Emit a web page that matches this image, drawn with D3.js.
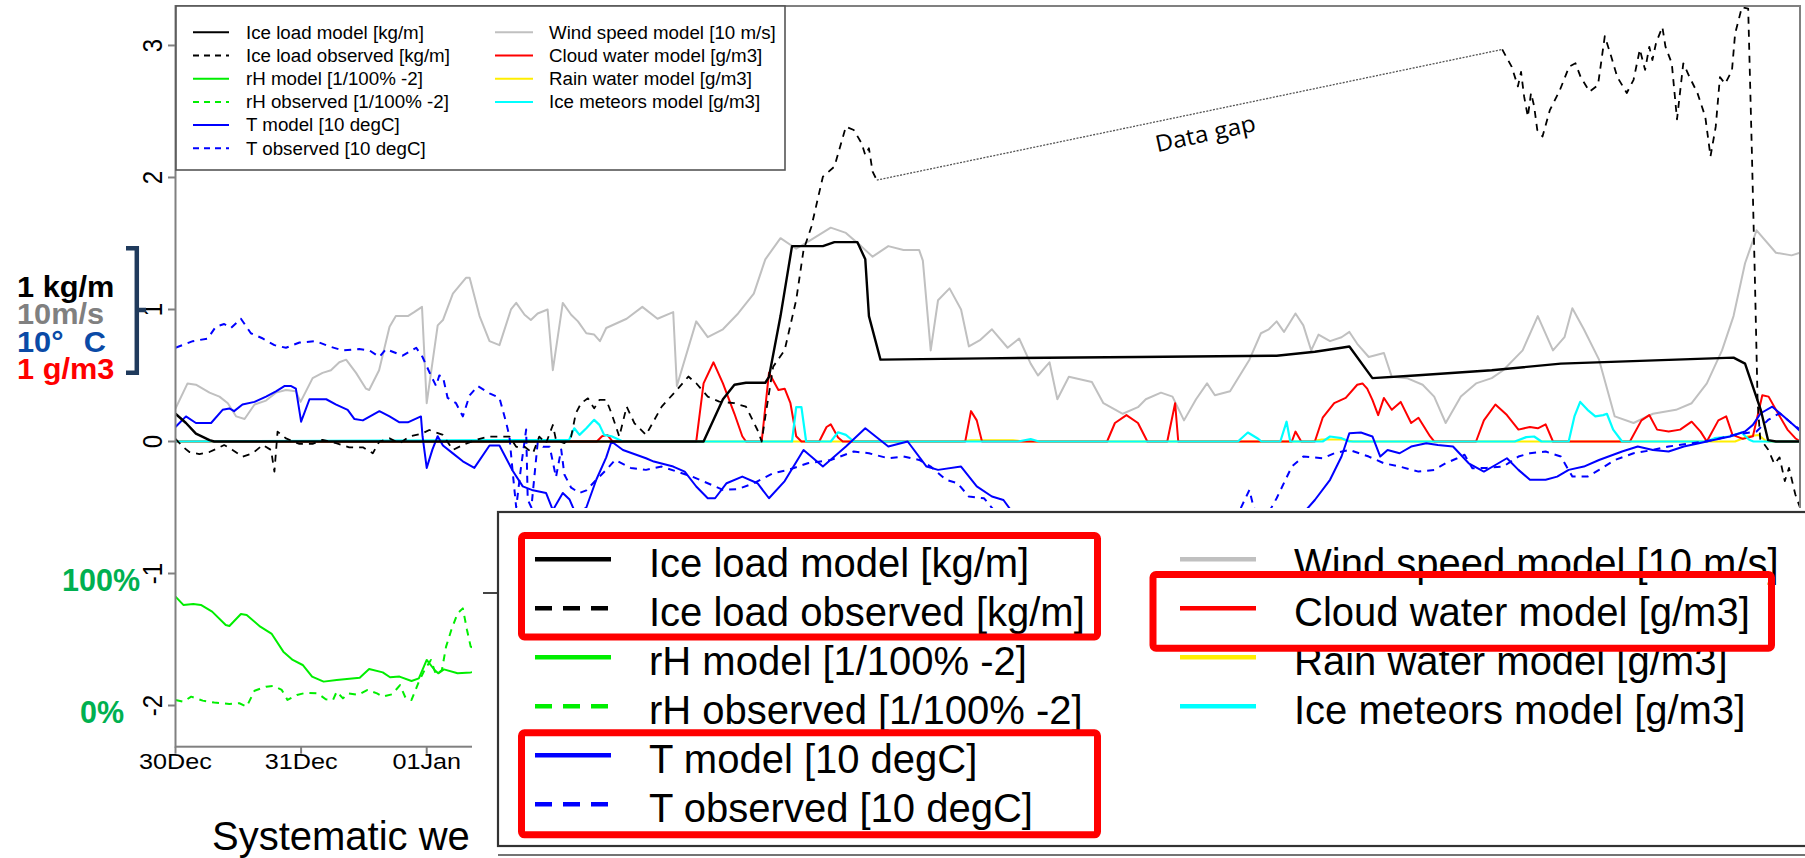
<!DOCTYPE html>
<html><head><meta charset="utf-8">
<script src="https://cdn.jsdelivr.net/npm/d3@7"></script>
<style>html,body{margin:0;padding:0;background:#fff;} svg{display:block;}</style>
</head><body>
<svg id="chart" width="1805" height="858"></svg>
<script>
// ---------- DATA (hours since 30 Dec 00:00, value in plot units) ----------
const windModel = [[0,0.25],[2.3,0.44],[3.9,0.43],[6.5,0.37],[8.4,0.34],[10.0,0.29],[11.6,0.19],[13.2,0.17],[15.1,0.28],[17.3,0.31],[19.2,0.37],[21.1,0.39],[23.0,0.38],[23.9,0.3],[26.2,0.48],[28.1,0.52],[29.7,0.54],[31.3,0.6],[32.6,0.62],[34.5,0.52],[36.4,0.4],[37.0,0.39],[38.9,0.54],[40.9,0.87],[42.1,0.95],[44.4,0.95],[45.6,0.98],[47.1,1.02],[48.0,0.29],[50.1,0.88],[51.1,0.92],[53.0,1.12],[55.5,1.24],[56.2,1.24],[58.1,0.95],[60.0,0.76],[61.9,0.73],[64.1,1.0],[65.1,1.05],[66.7,0.96],[67.9,0.92],[69.2,0.97],[71.1,1.0],[72.1,0.54],[74.0,1.05],[75.6,0.96],[76.9,0.91],[78.5,0.82],[80.0,0.81],[81.1,0.76],[82.3,0.86],[86.2,0.93],[89.2,1.02],[92.1,0.93],[95.1,0.98],[95.8,0.42],[99.5,0.91],[101.7,0.79],[104.6,0.85],[107.5,0.97],[110.5,1.12],[112.7,1.38],[115.6,1.54],[118.6,1.46],[121.5,1.53],[125.2,1.62],[128.1,1.58],[131.0,1.48],[133.2,1.40],[136.2,1.48],[139.1,1.45],[142.1,1.45],[142.8,1.37],[144.3,0.69],[145.7,1.07],[147.9,1.16],[150.1,1.0],[151.6,0.72],[153.8,0.77],[156.0,0.85],[159.0,0.71],[161.2,0.78],[163.4,0.59],[164.8,0.5],[167.0,0.6],[168.5,0.32],[170.7,0.49],[175.1,0.45],[177.3,0.29],[181.0,0.21],[183.9,0.26],[185.4,0.32],[188.3,0.37],[190.5,0.34],[192.7,0.16],[195.0,0.32],[197.1,0.44],[198.6,0.35],[201.5,0.38],[205.2,0.62],[207.4,0.82],[208.9,0.85],[210.4,0.91],[211.8,0.83],[214.0,0.97],[215.5,0.88],[217.0,0.69],[218.4,0.81],[220.6,0.76],[222.8,0.79],[224.3,0.83],[225.8,0.74],[228.0,0.64],[230.9,0.67],[232.4,0.49],[235.3,0.48],[238.3,0.43],[240.5,0.34],[242.7,0.14],[245.6,0.34],[248.5,0.44],[251.5,0.48],[253.7,0.54],[257.4,0.69],[260.3,0.95],[263.2,0.69],[265.4,0.79],[266.9,1.01],[269.1,0.85],[272.0,0.62],[275.0,0.19],[278.6,0.14],[282.3,0.21],[286.7,0.24],[289.7,0.29],[292.6,0.44],[295.5,0.69],[297.7,0.95],[299.9,1.35],[302.1,1.6],[305.8,1.43],[308.8,1.41],[310.4,1.43]];

const iceModel = [[0,0.21],[2.0,0.14],[3.9,0.06],[6.5,0.01],[7.4,0],[100.9,0],[104.6,0.32],[106.8,0.43],[109.0,0.445],[112.7,0.445],[113.4,0.49],[115.6,0.95],[117.8,1.48],[123.7,1.48],[125.9,1.51],[130.3,1.51],[131.8,1.38],[132.5,0.95],[134.7,0.62],[154.5,0.63],[183.9,0.64],[210.4,0.65],[217.7,0.68],[222.8,0.71],[224.3,0.72],[228.7,0.48],[236.8,0.5],[251.5,0.54],[264.7,0.59],[286.7,0.62],[297.7,0.635],[299.9,0.59],[302.9,0.24],[304.3,0.01],[305.8,0],[310.4,0]];

const iceObsBeforeGap = [[0,0.02],[1.4,-0.04],[2.65,-0.08],[4.56,-0.095],[6.47,-0.08],[8.4,-0.044],[9.3,-0.027],[10.9,-0.064],[12.8,-0.115],[14.75,-0.089],[16.66,-0.026],[18.25,-0.064],[18.9,-0.228],[19.5,0.075],[21.1,0.024],[23.67,-0.018],[26.2,-0.018],[28.1,0.012],[30.7,-0.013],[33.2,-0.044],[35.8,-0.044],[37.7,-0.089],[38.96,0],[40.9,0.024],[42.8,-0.013],[44.7,0.037],[47.2,0.062],[48.5,0.087],[51.1,0.05],[53,-0.064],[54.9,-0.026],[57.4,0.012],[59.7,0.037],[61.9,0.037],[63.8,0.037],[65.1,-0.04],[66.7,-0.04],[68.3,-0.089],[69.5,0.037],[70.8,-0.013],[72.1,0.125],[72.7,0.012],[74.3,-0.013],[75.6,0.037],[76.5,0.214],[77.5,0.29],[78.8,0.327],[80.0,0.251],[81.0,0.315],[82.3,0.315],[83.3,0.214],[84.8,0.037],[86.2,0.264],[87.7,0.138],[89.9,0.05],[92.9,0.264],[95.8,0.391],[98.0,0.492],[99.5,0.441],[101.7,0.34],[103.9,0.302],[106.8,0.29],[109.0,0.264],[111.2,0.087],[112.0,0],[112.7,0.188],[114.2,0.567],[116.4,0.693],[118.6,1.072],[120.0,1.45],[121.5,1.627],[123.7,2.006],[125.9,2.082],[128.1,2.385],[129.6,2.36],[131.1,2.259],[131.8,2.17],[132.5,2.221],[133.2,2.044],[134.0,1.98]];

const iceObsAfterGap = [[253.5,2.97],[255.3,2.84],[256.5,2.69],[257.1,2.8],[257.7,2.61],[258.4,2.46],[259.0,2.64],[259.6,2.54],[260.2,2.36],[261.2,2.31],[262.6,2.51],[264.5,2.66],[266.3,2.84],[267.5,2.865],[268.5,2.76],[270.2,2.65],[271.8,2.7],[273.1,3.07],[274.3,2.92],[275.5,2.76],[277.3,2.64],[278.6,2.74],[279.8,2.97],[280.8,2.815],[281.6,2.99],[282.2,2.89],[282.9,3.02],[284.1,3.14],[284.7,2.99],[285.9,2.865],[286.9,2.44],[288.1,2.865],[289.3,2.76],[290.8,2.64],[292.3,2.46],[293.3,2.16],[294.3,2.385],[295.1,2.76],[296.1,2.71],[297.4,2.81],[298.0,3.09],[299.3,3.29],[300.5,3.28],[301.2,2.2],[301.8,1.2],[302.3,0.3],[302.8,0.02],[304.3,-0.06],[305.5,-0.17],[306.5,-0.12],[307.5,-0.3],[308.3,-0.2],[309.5,-0.4],[310.4,-0.5]];

const rhModel = [[0,-1.175],[1.5,-1.238],[3.4,-1.231],[4.85,-1.238],[7.0,-1.289],[9.6,-1.39],[10.3,-1.398],[12.5,-1.307],[13.6,-1.314],[16.2,-1.403],[18.4,-1.458],[20.6,-1.592],[22.4,-1.655],[24.3,-1.693],[26.1,-1.781],[28.3,-1.819],[30.8,-1.807],[35.2,-1.789],[37.0,-1.723],[39.6,-1.749],[41.0,-1.786],[42.8,-1.781],[45.1,-1.814],[46.5,-1.794],[48.0,-1.655],[49.5,-1.731],[50.2,-1.756],[51.3,-1.726],[53.9,-1.756],[56.4,-1.749],[58.5,-1.74]];

const rhObs = [[0,-1.958],[1.5,-1.971],[3.0,-1.933],[5.2,-1.963],[7.4,-1.978],[10.3,-1.988],[12.2,-1.983],[13.6,-2.008],[15.1,-1.888],[17.3,-1.857],[18.8,-1.852],[20.3,-1.882],[21.4,-1.958],[23.2,-1.92],[25.0,-1.903],[27.2,-1.908],[28.7,-1.953],[30.1,-1.958],[30.8,-1.895],[32.0,-1.946],[33.0,-1.908],[34.9,-1.92],[36.7,-1.882],[38.5,-1.908],[39.6,-1.933],[41.4,-1.915],[42.9,-1.845],[44.0,-1.946],[45.1,-1.958],[46.5,-1.819],[47.6,-1.731],[48.8,-1.655],[49.8,-1.769],[50.9,-1.731],[51.7,-1.554],[52.7,-1.428],[53.9,-1.302],[54.9,-1.264],[55.7,-1.428],[56.4,-1.554],[58.5,-1.6]];

const tModel = [[0,0.11],[2.0,0.19],[3.9,0.14],[6.8,0.14],[9.0,0.24],[10.3,0.25],[11.2,0.23],[12.8,0.28],[15.1,0.3],[17.3,0.34],[19.2,0.38],[20.8,0.42],[22.1,0.42],[23.0,0.4],[24.0,0.15],[25.6,0.32],[26.9,0.32],[28.8,0.32],[30.7,0.28],[32.9,0.24],[34.2,0.17],[35.8,0.16],[38.96,0.23],[40.9,0.19],[42.8,0.145],[44.4,0.145],[46.9,0.19],[47.2,0.04],[48.0,-0.2],[49.1,-0.06],[50.1,0.04],[51.1,-0.03],[53.0,-0.09],[54.9,-0.15],[57.1,-0.2],[60.0,-0.03],[61.9,-0.03],[64.4,-0.22],[66.35,-0.34],[68.3,-0.37],[70.8,-0.39],[72.1,-0.52],[74.0,-0.39],[75.3,-0.44],[76.5,-0.55],[78.5,-0.5],[80.4,-0.29],[82.3,-0.12],[83.3,0.0],[85.5,-0.064],[89.9,-0.127],[91.4,-0.152],[95.1,-0.19],[97.3,-0.228],[99.5,-0.341],[101.7,-0.43],[103.1,-0.43],[105.3,-0.316],[108.3,-0.266],[111.2,-0.316],[113.4,-0.43],[116.4,-0.3],[120.0,-0.064],[123.7,-0.19],[128.1,-0.038],[131.8,0.1],[136.2,-0.038],[139.9,0],[143.5,-0.19],[145.7,-0.215],[150.1,-0.19],[153.1,-0.34],[156.0,-0.417],[158.2,-0.443],[162,-0.65],[172,-0.9],[186,-1.0],[200,-0.9],[212,-0.7],[217.7,-0.443],[220.6,-0.29],[222.8,-0.114],[224.3,0.063],[226.5,0.068],[228.7,0.038],[230.2,-0.114],[231.6,-0.064],[233.9,-0.089],[236.1,-0.038],[239.0,-0.013],[241.2,-0.026],[244.1,-0.038],[247.1,-0.165],[250.0,-0.228],[252.2,-0.178],[254.4,-0.127],[256.6,-0.215],[258.8,-0.29],[261.8,-0.29],[264.0,-0.266],[266.2,-0.215],[269.1,-0.19],[272.0,-0.14],[276.4,-0.076],[279.4,-0.038],[282.3,-0.064],[285.3,-0.076],[288.2,-0.038],[291.1,-0.013],[294.1,0.013],[297.0,0.038],[299.9,0.076],[301.4,0.126],[302.9,0.214],[305.1,0.264],[307.3,0.189],[309.5,0.113],[310.4,0.08]];

const tObs = [[0,0.71],[3.3,0.76],[6.15,0.78],[7.7,0.87],[9.3,0.89],[10.6,0.86],[12.5,0.93],[14.4,0.82],[16.7,0.78],[18.9,0.73],[21.1,0.71],[23.7,0.75],[26.85,0.76],[29.4,0.72],[31.95,0.69],[35.1,0.70],[37.05,0.69],[38.96,0.64],[40.2,0.70],[43.4,0.65],[46.0,0.71],[47.2,0.64],[48.8,0.5],[49.8,0.42],[50.4,0.5],[51.1,0.49],[52.0,0.33],[53.6,0.29],[54.9,0.19],[56.2,0.35],[57.75,0.42],[60.0,0.365],[61.9,0.33],[63.2,0.14],[63.8,0.04],[64.4,-0.22],[65.1,-0.5],[66.0,-0.2],[67.0,0.09],[67.3,-0.44],[68.0,-0.5],[69.2,-0.01],[70.2,-0.04],[71.5,-0.04],[72.7,-0.27],[73.7,-0.06],[74.3,-0.25],[75.6,-0.35],[77.2,-0.39],[78.5,-0.37],[80.4,-0.29],[82.3,-0.215],[84.0,-0.14],[87.0,-0.2],[89.9,-0.215],[92.9,-0.19],[95.8,-0.228],[98.7,-0.266],[101.7,-0.316],[104.6,-0.367],[107.5,-0.36],[110.5,-0.316],[114.2,-0.24],[117.1,-0.215],[120.8,-0.165],[125.2,-0.14],[129.6,-0.076],[132.5,-0.089],[136.2,-0.127],[139.1,-0.114],[142.1,-0.14],[144.3,-0.19],[147.2,-0.29],[149.4,-0.316],[151.6,-0.417],[154.5,-0.43],[158,-0.6],[170,-1.0],[185,-1.1],[200,-0.8],[205.2,-0.367],[206,-0.5],[208,-0.6],[210.4,-0.43],[213.3,-0.19],[215.5,-0.114],[219.2,-0.127],[221.4,-0.089],[224.3,-0.064],[228.0,-0.114],[230.9,-0.165],[233.9,-0.19],[237.5,-0.228],[240.5,-0.215],[242.7,-0.165],[244.9,-0.127],[246.3,-0.1],[247.8,-0.203],[250.5,-0.2],[253.7,-0.19],[256.6,-0.114],[258.8,-0.089],[261.8,-0.076],[264.7,-0.114],[266.9,-0.266],[269.8,-0.266],[272.0,-0.215],[275.0,-0.14],[278.6,-0.089],[282.3,-0.064],[285.3,-0.038],[289.7,-0.013],[294.1,0.013],[297.7,0.05],[299.9,0.063],[302.1,0.076],[304.3,0.163],[306.5,0.214],[308.8,0.138],[310.4,0.09]];

const cloudWater = [[0,0],[80.5,0],[81.5,0.04],[82.5,0.05],[83.5,0],[99.5,0],[100.9,0.44],[102.8,0.6],[104.6,0.44],[106.8,0.21],[108.3,0.04],[109.0,0],[112.0,0],[113.4,0.52],[115.2,0.39],[116.4,0.4],[117.5,0.29],[118.6,0.04],[119.6,0],[123.0,0],[124.4,0.11],[125.2,0.13],[126.6,0.03],[127.5,0],[150.9,0],[152.0,0.23],[153.1,0.16],[154.1,0],[178.0,0],[179.5,0.14],[181.7,0.2],[183.9,0.14],[185.7,0],[189.5,0],[191.0,0.29],[191.6,0],[213.3,0],[214.0,0.075],[215.1,0],[217.7,0],[219.2,0.18],[221.4,0.29],[223.6,0.33],[225.8,0.43],[226.8,0.44],[227.7,0.4],[228.7,0.315],[229.8,0.2],[230.9,0.33],[232.4,0.24],[234.1,0.3],[236.1,0.14],[237.5,0.18],[239.7,0.04],[240.5,0],[248.5,0],[250.0,0.16],[252.2,0.28],[254.4,0.2],[256.6,0.09],[258.8,0.11],[260.3,0.1],[261.8,0.13],[263.2,0],[277.9,0],[280.1,0.16],[281.6,0.2],[283.1,0.09],[285.3,0.075],[287.5,0.09],[289.7,0.15],[291.4,0.075],[292.6,0],[294.8,0.16],[296.3,0.19],[297.5,0.05],[299.5,0.02],[301.4,0.04],[303.2,0.35],[304.4,0.34],[305.8,0.24],[308.0,0.09],[309.5,0.025],[310.4,0]];

const rainWater = [[0,0],[150,0],[152,0.01],[160,0.01],[162,0],[217,0],[219,0.015],[223,0.015],[225,0],[298,0],[300.5,0.04],[302.5,0.05],[304,0],[310.4,0]];

const iceMeteors = [[0,0],[75.2,0.012],[76.2,0.1],[77.2,0.05],[78.5,0.1],[80.0,0.164],[81.0,0.126],[81.9,0.05],[83.3,0.04],[85.5,0],[117.8,0],[118.6,0.26],[119.6,0.26],[120.5,0],[125.2,0],[126.6,0.07],[128.1,0.05],[129.6,0],[161,0],[163.4,0.018],[165,0],[203.0,0],[204.9,0.068],[206.7,0.025],[207.5,0],[211.1,0],[212.3,0.15],[213.0,0],[219.2,0],[220.6,0.038],[222.8,0.025],[224.3,0],[255.9,0],[258.1,0.033],[259.6,0.038],[261.0,0],[266.2,0],[267.3,0.19],[268.4,0.3],[269.8,0.24],[271.3,0.19],[272.8,0.2],[273.5,0.21],[274.7,0.09],[276.4,0],[292.6,0],[294.1,0.025],[297.0,0.038],[299.2,0.068],[300.7,0.013],[301.5,0],[310.4,0]];

const xTickHours = [0, 24, 48];
const xTickLabels = ["30Dec", "31Dec", "01Jan"];
const yTicks = [-2, -1, 0, 1, 2, 3];

const legendLeftNames = ["Ice load model [kg/m]", "Ice load observed [kg/m]", "rH model [1/100% -2]", "rH observed [1/100% -2]", "T model [10 degC]", "T observed [10 degC]"];
const legendRightNames = ["Wind speed model [10 m/s]", "Cloud water model [g/m3]", "Rain water model [g/m3]", "Ice meteors model [g/m3]"];
const legendLeftColors = ["#000000", "#000000", "#00ee00", "#00ee00", "#0000ff", "#0000ff"];
const legendLeftDashed = [false, true, false, true, false, true];
const legendRightColors = ["#c0c0c0", "#ff0000", "#ffee00", "#00ffff"];

const unitLabels = [
  {text: "1 kg/m", color: "#000000"},
  {text: "10m/s", color: "#808080"},
  {text: "10°", tail: "C", color: "#0a4aa6"},
  {text: "1 g/m3", color: "#ff0000"}
];
const rhLabels = [{text: "100%", value: -1, x: 62}, {text: "0%", value: -2, x: 80}];

// ---------- DRAWING ----------
const svg = d3.select("#chart");
const FONT = "'Liberation Sans', Arial, Helvetica, sans-serif";
svg.append("rect").attr("width", 1805).attr("height", 858).attr("fill", "#fff");

const plot = {left: 175.5, right: 1800, top: 6, bottom: 746.7};
const x = d3.scaleLinear().domain([0, 310.4]).range([plot.left, plot.right]);
const y = d3.scaleLinear().domain([-2.312, 3.299]).range([plot.bottom, plot.top]);

svg.append("defs").append("clipPath").attr("id", "plotclip")
  .append("rect").attr("x", plot.left).attr("y", plot.top)
  .attr("width", plot.right - plot.left).attr("height", plot.bottom - plot.top);

const line = d3.line().x(d => x(d[0])).y(d => y(d[1]));
const g = svg.append("g").attr("clip-path", "url(#plotclip)");

const seriesList = [
  {data: windModel, color: "#c0c0c0", width: 2, dash: null},
  {data: rainWater, color: "#ffee00", width: 2, dash: null},
  {data: cloudWater, color: "#ff0000", width: 2, dash: null},
  {data: iceMeteors, color: "#00ffff", width: 2.2, dash: null},
  {data: tObs, color: "#0000ff", width: 2, dash: "7,6"},
  {data: tModel, color: "#0000ff", width: 2, dash: null},
  {data: rhObs, color: "#00ee00", width: 2, dash: "7,6"},
  {data: rhModel, color: "#00ee00", width: 2, dash: null},
  {data: iceObsBeforeGap, color: "#000000", width: 1.8, dash: "7,6"},
  {data: iceObsAfterGap, color: "#000000", width: 1.8, dash: "7,6"},
  {data: iceModel, color: "#000000", width: 2.4, dash: null}
];
seriesList.forEach(s => {
  g.append("path").datum(s.data).attr("d", line)
    .attr("fill", "none").attr("stroke", s.color).attr("stroke-width", s.width)
    .attr("stroke-linejoin", "round")
    .attr("stroke-dasharray", s.dash);
});

// data gap connector
const gapA = iceObsBeforeGap[iceObsBeforeGap.length - 1];
const gapB = iceObsAfterGap[0];
g.append("line").attr("x1", x(gapA[0])).attr("y1", y(gapA[1]))
  .attr("x2", x(gapB[0])).attr("y2", y(gapB[1]))
  .attr("stroke", "#555").attr("stroke-width", 1.3).attr("stroke-dasharray", "2,1.4");
svg.append("text").attr("transform", "translate(1207,141.5) rotate(-12.3)")
  .attr("text-anchor", "middle").attr("font-family", "'Open Sans', 'Noto Sans', sans-serif")
  .attr("font-size", 23).attr("textLength", 102).attr("lengthAdjust", "spacingAndGlyphs")
  .attr("fill", "#000").text("Data gap");

// plot box
svg.append("rect").attr("x", plot.left).attr("y", plot.top)
  .attr("width", plot.right - plot.left).attr("height", plot.bottom - plot.top)
  .attr("fill", "none").attr("stroke", "#808080").attr("stroke-width", 2);

// y axis
const yAxis = svg.append("g");
yTicks.forEach(t => {
  yAxis.append("line").attr("x1", plot.left - 7.5).attr("x2", plot.left)
    .attr("y1", y(t)).attr("y2", y(t)).attr("stroke", "#808080").attr("stroke-width", 2);
  yAxis.append("text")
    .attr("transform", `translate(162.3,${y(t)}) scale(1.14,1) rotate(-90)`)
    .attr("text-anchor", "middle").attr("font-family", FONT).attr("font-size", 24)
    .attr("fill", "#000").text(t);
});

// x axis
const xAxis = svg.append("g");
xTickHours.forEach((h, i) => {
  xAxis.append("line").attr("x1", x(h)).attr("x2", x(h))
    .attr("y1", plot.bottom).attr("y2", plot.bottom + 7).attr("stroke", "#808080").attr("stroke-width", 2);
  xAxis.append("text")
    .attr("transform", `translate(${x(h)},769.3) scale(1.12,1)`)
    .attr("text-anchor", "middle").attr("font-family", FONT).attr("font-size", 22.5)
    .attr("fill", "#000").text(xTickLabels[i]);
});

// small legend
const sl = svg.append("g");
sl.append("rect").attr("x", 176).attr("y", 6).attr("width", 609).attr("height", 164)
  .attr("fill", "#fff").attr("stroke", "#555").attr("stroke-width", 1.6);
function legendRow(grp, x1, x2, tx, yy, color, dashed, label, fs, lw, dash, base, sx) {
  grp.append("line").attr("x1", x1).attr("x2", x2).attr("y1", yy).attr("y2", yy)
    .attr("stroke", color).attr("stroke-width", lw).attr("stroke-dasharray", dashed ? dash : null);
  grp.append("text").attr("transform", `translate(${tx},${yy + base}) scale(${sx},1)`)
    .attr("font-family", FONT).attr("font-size", fs).attr("fill", "#000").text(label);
}
legendLeftNames.forEach((n, i) => legendRow(sl, 193, 229, 246, 32.3 + 23.2 * i, legendLeftColors[i], legendLeftDashed[i], n, 18, 2, "6,5", 6.3, 1.04));
legendRightNames.forEach((n, i) => legendRow(sl, 495, 533, 549, 32.3 + 23.2 * i, legendRightColors[i], false, n, 18, 2, null, 6.3, 1.04));

// unit annotations on the left (one stacked text block)
const ua = svg.append("text").attr("transform", "translate(17,0) scale(1.06,1)")
  .attr("font-family", FONT).attr("font-weight", "bold").attr("font-size", 29);
unitLabels.forEach((u, i) => {
  ua.append("tspan").attr("x", 0).attr("y", 297.3 + 27.2 * i).attr("fill", u.color).text(u.text);
  if (u.tail) ua.append("tspan").attr("x", 63).attr("y", 297.3 + 27.2 * i).attr("fill", u.color).text(u.tail);
});
svg.append("path")
  .attr("d", "M126,248.3 H136.8 V372.7 H126 M136.8,310 H146")
  .attr("fill", "none").attr("stroke", "#1f3a5c").attr("stroke-width", 4.5);
rhLabels.forEach(r => {
  svg.append("text").attr("x", r.x).attr("y", y(r.value) + 17)
    .attr("font-family", FONT).attr("font-weight", "bold")
    .attr("font-size", 30.5).attr("fill", "#00b050").text(r.text);
});

// caption fragment
svg.append("text").attr("x", 212).attr("y", 850).attr("font-family", FONT)
  .attr("font-size", 40).attr("fill", "#000").text("Systematic we");

// ---------- enlarged legend overlay ----------
const ov = svg.append("g");
ov.append("rect").attr("x", 472).attr("y", 508).attr("width", 1805 - 472).attr("height", 858 - 508).attr("fill", "#fff");
ov.append("line").attr("x1", 483).attr("x2", 497).attr("y1", 593).attr("y2", 593).attr("stroke", "#444").attr("stroke-width", 2);
ov.append("rect").attr("x", 498).attr("y", 512).attr("width", 1330).attr("height", 334)
  .attr("fill", "#fff").attr("stroke", "#333").attr("stroke-width", 2.2);
ov.append("line").attr("x1", 498).attr("x2", 1805).attr("y1", 855).attr("y2", 855).attr("stroke", "#444").attr("stroke-width", 1.5);
legendLeftNames.forEach((n, i) => legendRow(ov, 535, 611, 649, 559.3 + 49 * i, legendLeftColors[i], legendLeftDashed[i], n, 40, 4.5, "17,11", 17.4, 1));
legendRightNames.forEach((n, i) => legendRow(ov, 1180, 1256, 1294, 559.3 + 49 * i, legendRightColors[i], false, n, 40, 4.5, null, 17.4, 1));
const hl = [[521.5, 535.5, 576, 101.5], [1153, 574.5, 618.5, 73.7], [521.5, 732.8, 576, 102]];
hl.forEach(b => ov.append("rect").attr("x", b[0]).attr("y", b[1]).attr("width", b[2]).attr("height", b[3])
  .attr("rx", 3).attr("fill", "none").attr("stroke", "#ff0000").attr("stroke-width", 7));
</script>
</body></html>
